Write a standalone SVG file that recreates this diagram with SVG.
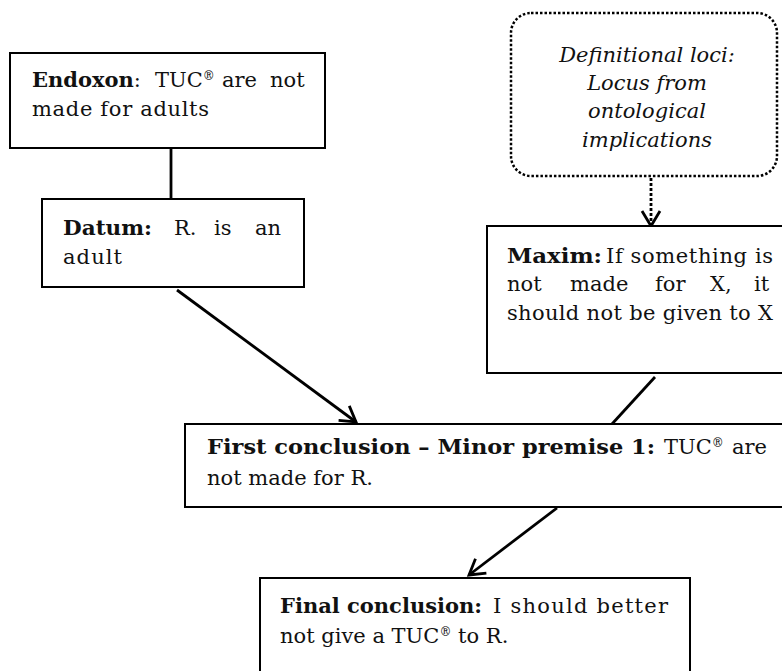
<svg xmlns="http://www.w3.org/2000/svg" width="782" height="671" viewBox="0 0 782 671">
<defs>
<style>
.box{fill:#fff;stroke:#000;stroke-width:2}
.dot{fill:#fff;stroke:#000;stroke-width:2.5;stroke-dasharray:2.5 2}
.t{font-family:"DejaVu Serif","Liberation Serif",serif;font-size:21px;fill:#111}
.b{font-weight:bold}
.i{font-style:italic}
.c{stroke:#000;stroke-width:2.8;fill:none}
.sup{font-size:12px}
</style>
<marker id="ah" viewBox="-18 -11 20 22" refX="0" refY="0" markerWidth="20" markerHeight="22" markerUnits="userSpaceOnUse" orient="auto" overflow="visible">
<path d="M -15 -9 L 0 0 L -15 9" fill="none" stroke="#000" stroke-width="2.8"/>
</marker>
</defs>
<rect width="782" height="671" fill="#fff"/>

<g id="connectors">
<line class="c" x1="171" y1="148" x2="171" y2="199"/>
<line class="c" x1="177" y1="290" x2="356" y2="422" marker-end="url(#ah)"/>
<line class="c" x1="651" y1="178" x2="651" y2="226" stroke-width="3.5" stroke-dasharray="3 2" marker-end="url(#ah)"/>
<line class="c" x1="655" y1="377" x2="612" y2="424"/>
<line class="c" x1="557" y1="508" x2="469" y2="575" marker-end="url(#ah)"/>
</g>

<g id="endoxon">
<rect class="box" x="10" y="53" width="315" height="95"/>
<text class="t" x="32" y="87"><tspan class="b">Endoxon</tspan>:<tspan x="155">TUC</tspan><tspan class="sup" dy="-7">®</tspan><tspan x="222" dy="7">are</tspan><tspan x="270">not</tspan></text>
<text class="t" x="32" y="116" textLength="177" lengthAdjust="spacing">made for adults</text>
</g>

<g id="datum">
<rect class="box" x="42" y="199" width="262" height="88"/>
<text class="t b" x="63" y="235" textLength="89" lengthAdjust="spacingAndGlyphs">Datum:</text>
<text class="t" y="235"><tspan x="174">R.</tspan><tspan x="214">is</tspan><tspan x="255">an</tspan></text>
<text class="t" x="63" y="264" textLength="59" lengthAdjust="spacing">adult</text>
</g>

<g id="locus">
<rect class="dot" x="511" y="13" width="266" height="163" rx="20" ry="20"/>
<text class="t i" text-anchor="middle" x="647" y="62">Definitional loci:</text>
<text class="t i" text-anchor="middle" x="647" y="90">Locus from</text>
<text class="t i" text-anchor="middle" x="647" y="118">ontological</text>
<text class="t i" text-anchor="middle" x="647" y="147">implications</text>
</g>

<g id="maxim">
<rect class="box" x="487" y="226" width="320" height="147"/>
<text class="t b" x="507" y="263" textLength="95" lengthAdjust="spacingAndGlyphs">Maxim:</text>
<text class="t" x="606" y="263" textLength="167" lengthAdjust="spacing">If something is</text>
<text class="t" y="291"><tspan x="507">not</tspan><tspan x="570">made</tspan><tspan x="655">for</tspan><tspan x="710">X,</tspan><tspan x="754">it</tspan></text>
<text class="t" x="507" y="320" textLength="266" lengthAdjust="spacing">should not be given to X</text>
</g>

<g id="first">
<rect class="box" x="185" y="424" width="620" height="83"/>
<text class="t b" x="207" y="454" textLength="448" lengthAdjust="spacingAndGlyphs">First conclusion – Minor premise 1:</text>
<text class="t" x="664" y="454">TUC<tspan class="sup" dy="-7">®</tspan><tspan x="732" dy="7">are</tspan></text>
<text class="t" x="207" y="485">not made for R.</text>
</g>

<g id="final">
<rect class="box" x="260" y="578" width="430" height="130"/>
<text class="t b" x="280" y="613" textLength="202" lengthAdjust="spacingAndGlyphs">Final conclusion:</text>
<text class="t" x="493" y="613" textLength="175" lengthAdjust="spacing">I should better</text>
<text class="t" x="280" y="643">not give a TUC<tspan class="sup" dy="-7">®</tspan><tspan dy="7"> to R.</tspan></text>
</g>
</svg>
